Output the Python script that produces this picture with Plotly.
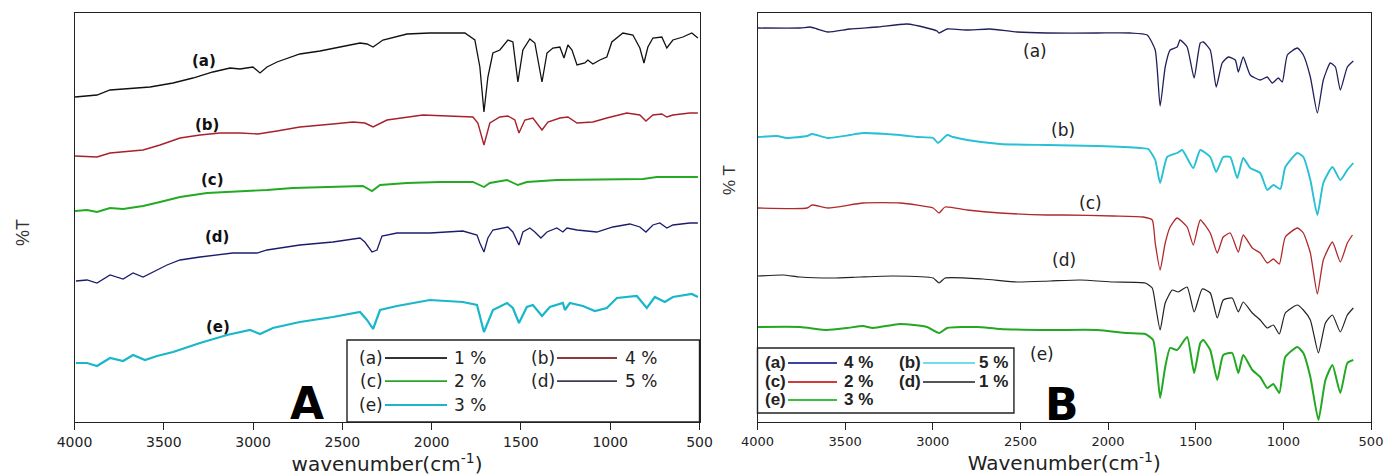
import plotly.graph_objects as go

# ---------------- Panel A data (wavenumber cm-1, %T offset a.u.) ----------------
A_a_wn = [3997, 3874, 3801, 3672, 3577, 3448, 3337, 3225, 3129, 3073, 3001, 2961, 2922, 2866, 2738, 2625,
          2457, 2401, 2362, 2328, 2273, 2138, 2010, 1814, 1758, 1730, 1707, 1685, 1657, 1618, 1573, 1545,
          1517, 1489, 1450, 1422, 1382, 1354, 1321, 1282, 1259, 1237, 1214, 1186, 1142, 1125, 1097, 1058,
          1019, 991, 929, 873, 834, 811, 789, 761, 711, 683, 649, 593, 543, 509]
A_a_T = [325, 327, 332, 334, 335, 339, 344, 350, 354, 353, 355, 349, 355, 360, 368, 371,
         377, 379, 378, 375, 382, 388, 389, 389, 382, 355, 310, 345, 369, 372, 382, 380,
         340, 372, 383, 379, 340, 369, 374, 375, 364, 377, 372, 357, 359, 362, 358, 362,
         365, 380, 389, 387, 374, 359, 375, 384, 385, 374, 382, 385, 389, 384]

A_b_wn = [3997, 3874, 3801, 3728, 3616, 3521, 3409, 3297, 3185, 3073, 2973, 2866, 2738, 2553, 2441,
          2374, 2328, 2250, 2049, 1769, 1741, 1707, 1674, 1618, 1573, 1534, 1511, 1478, 1433, 1382,
          1349, 1282, 1237, 1186, 1097, 1019, 907, 834, 800, 761, 711, 683, 649, 554, 509]
A_b_T = [266, 265, 269, 270, 272, 277, 284, 287, 289, 289, 288, 291, 295, 298, 300,
         299, 295, 302, 307, 305, 299, 277, 299, 305, 306, 302, 289, 302, 304, 292,
         300, 304, 305, 299, 300, 304, 309, 307, 301, 307, 308, 305, 307, 309, 309]

A_c_wn = [3997, 3930, 3874, 3801, 3728, 3616, 3521, 3409, 3258, 3113, 2922, 2777, 2553, 2385, 2334,
          2289, 2138, 1954, 1769, 1707, 1674, 1578, 1517, 1467, 1299, 1019, 817, 739, 509]
A_c_T = [211, 212, 210, 214, 213, 216, 220, 225, 229, 230, 232, 234, 235, 236, 231,
         237, 239, 240, 240, 235, 239, 242, 237, 240, 242, 243, 243, 245, 245]

A_d_wn = [3992, 3930, 3874, 3801, 3728, 3672, 3616, 3538, 3482, 3409, 3297, 3113, 2978, 2922, 2738,
          2553, 2401, 2374, 2334, 2306, 2278, 2194, 2010, 1825, 1746, 1730, 1707, 1685, 1657, 1573,
          1545, 1511, 1489, 1450, 1422, 1388, 1354, 1299, 1265, 1242, 1186, 1075, 985, 890, 834,
          800, 761, 722, 683, 649, 554, 509]
A_d_T = [141, 142, 139, 147, 143, 149, 145, 152, 157, 162, 165, 169, 169, 172, 177,
         180, 184, 180, 170, 172, 186, 189, 189, 191, 187, 179, 170, 184, 192, 195,
         190, 177, 190, 194, 190, 184, 190, 194, 190, 194, 192, 190, 195, 198, 195,
         190, 197, 199, 194, 197, 199, 199]

A_e_wn = [3992, 3930, 3874, 3801, 3728, 3672, 3605, 3538, 3448, 3297, 3146, 3017, 2961, 2889, 2738,
          2553, 2401, 2362, 2328, 2289, 2194, 2010, 1825, 1746, 1707, 1657, 1578, 1545, 1511, 1467,
          1433, 1382, 1338, 1265, 1254, 1226, 1153, 1086, 1019, 963, 851, 795, 750, 694, 649, 543, 509]
A_e_T = [59, 59, 56, 64, 61, 67, 62, 66, 70, 79, 87, 92, 88, 94, 100,
         105, 110, 102, 93, 112, 116, 122, 120, 117, 90, 112, 119, 114, 99, 115,
         117, 106, 115, 119, 112, 119, 116, 111, 114, 124, 126, 114, 125, 120, 125, 128, 125]

# ---------------- Panel B data ----------------
B_a_wn = [3997, 3757, 3700, 3660, 3598, 3472, 3318, 3147, 3033, 2976, 2964, 2918, 2804, 2673, 2519,
          2348, 2062, 1874, 1777, 1731, 1703, 1674, 1646, 1606, 1589, 1549, 1509, 1474, 1457, 1417,
          1383, 1349, 1314, 1274, 1257, 1229, 1189, 1132, 1092, 1063, 1029, 1006, 977, 920, 886,
          846, 806, 772, 732, 703, 675, 635, 601]
B_a_T = [394, 394, 395, 393, 390, 393, 395, 398, 394, 391, 389, 393, 392, 393, 390,
         389, 389, 389, 387, 372, 316, 355, 372, 375, 382, 375, 344, 379, 380, 372,
         335, 359, 365, 362, 350, 365, 347, 342, 345, 339, 344, 340, 367, 374, 367,
         345, 309, 342, 359, 355, 332, 355, 361]

B_b_wn = [3997, 3889, 3832, 3717, 3689, 3598, 3472, 3398, 3187, 3090, 2998, 2970, 2918, 2884, 2804,
          2616, 2348, 2062, 1817, 1771, 1731, 1703, 1663, 1606, 1577, 1514, 1474, 1417, 1383, 1343,
          1303, 1263, 1229, 1189, 1132, 1092, 1057, 1017, 989, 920, 886, 846, 806, 772, 720,
          675, 635, 601]
B_b_T = [285, 286, 284, 286, 288, 284, 287, 289, 287, 285, 284, 279, 287, 285, 282,
         278, 277, 276, 274, 273, 262, 239, 265, 269, 272, 254, 272, 265, 250, 265,
         265, 244, 264, 254, 249, 232, 237, 233, 255, 269, 265, 242, 207, 239, 255,
         242, 252, 259]

B_c_wn = [3997, 3717, 3689, 3598, 3398, 3187, 2998, 2964, 2930, 2804, 2616, 2348, 2256, 1971, 1800,
          1748, 1731, 1703, 1674, 1646, 1606, 1549, 1514, 1474, 1417, 1377, 1343, 1303, 1257, 1229,
          1177, 1132, 1092, 1057, 1023, 989, 920, 886, 846, 806, 772, 720, 675, 635, 606]
B_c_T = [214, 214, 217, 214, 219, 219, 214, 209, 215, 212, 209, 207, 207, 206, 205,
         202, 179, 152, 179, 195, 204, 195, 177, 202, 189, 169, 185, 189, 170, 187,
         174, 169, 159, 163, 158, 185, 194, 189, 169, 128, 162, 180, 160, 179, 187]

B_d_wn = [3997, 3854, 3757, 3569, 3415, 3227, 2998, 2964, 2930, 2713, 2519, 2331, 2159, 1971, 1788,
          1748, 1725, 1703, 1674, 1634, 1600, 1549, 1509, 1463, 1417, 1377, 1343, 1292, 1257, 1229,
          1177, 1132, 1092, 1057, 1023, 989, 920, 886, 846, 800, 760, 720, 675, 635, 601]
B_d_T = [146, 147, 145, 144, 145, 146, 144, 139, 144, 143, 140, 141, 142, 140, 139,
         134, 112, 92, 119, 132, 130, 135, 110, 133, 129, 104, 122, 124, 110, 120,
         109, 102, 94, 97, 88, 109, 117, 112, 102, 69, 99, 107, 90, 107, 114]

B_e_wn = [3997, 3757, 3603, 3489, 3398, 3341, 3187, 3033, 2964, 2918, 2747, 2616, 2331, 2062, 1891,
          1788, 1743, 1720, 1703, 1674, 1646, 1606, 1549, 1509, 1474, 1457, 1417, 1377, 1343, 1292,
          1257, 1229, 1177, 1132, 1092, 1057, 1023, 989, 920, 886, 846, 800, 760, 720, 675, 635, 601]
B_e_T = [95, 95, 92, 94, 96, 94, 98, 95, 89, 94, 95, 93, 92, 92, 89,
         88, 82, 52, 24, 55, 74, 72, 85, 49, 79, 82, 72, 42, 67, 69,
         49, 67, 52, 45, 34, 38, 29, 65, 75, 69, 45, 2, 42, 57, 29, 59, 62]

tick_vals = [4000, 3500, 3000, 2500, 2000, 1500, 1000, 500]
A_labels = ["(a)", "(b)", "(c)", "(d)", "(e)"]
A_pcts = ["1 %", "4 %", "2 %", "5 %", "3 %"]
B_labels = ["(a)", "(b)", "(c)", "(d)", "(e)"]
B_pcts = ["4 %", "5 %", "2 %", "1 %", "3 %"]

A_colors = ["#111111", "#a8202a", "#22aa22", "#1c1c6e", "#1ab6ca"]
A_legend_colors = ["#333333", "#8b3a3a", "#2aa52a", "#3c3c58", "#1ab6ca"]
A_widths = [1.3, 1.4, 1.9, 1.3, 2.2]
B_colors = ["#20205a", "#27c0d4", "#b02a2a", "#222222", "#22a822"]
B_legend_colors = ["#4040a0", "#70dcec", "#d03a3a", "#555555", "#3cc03c"]
B_widths = [1.3, 1.9, 1.3, 1.2, 2.0]

A_series = [(A_a_wn, A_a_T), (A_b_wn, A_b_T), (A_c_wn, A_c_T), (A_d_wn, A_d_T), (A_e_wn, A_e_T)]
B_series = [(B_a_wn, B_a_T), (B_b_wn, B_b_T), (B_c_wn, B_c_T), (B_d_wn, B_d_T), (B_e_wn, B_e_T)]

fig = go.Figure()
for i, (wn, T) in enumerate(A_series):
    fig.add_trace(go.Scatter(x=wn, y=T, mode="lines", name=f"A {A_labels[i]} {A_pcts[i]}",
                             line=dict(color=A_colors[i], width=A_widths[i]),
                             xaxis="x", yaxis="y", showlegend=False))
for i, (wn, T) in enumerate(B_series):
    fig.add_trace(go.Scatter(x=wn, y=T, mode="lines", name=f"B {B_labels[i]} {B_pcts[i]}",
                             line=dict(color=B_colors[i], width=B_widths[i], shape="spline", smoothing=0.5),
                             xaxis="x2", yaxis="y2", showlegend=False))

W, H = 1384, 476
axA = (74.5, 699.5)
axB = (757.5, 1371.0)
ybot, ytop = 422, 13

frame = dict(showgrid=False, zeroline=False, showline=True, linecolor="#222", linewidth=1.4, mirror=True)
xcommon = dict(range=[4000, 500], tickmode="array", tickvals=tick_vals, ticks="outside", ticklen=7,
               tickcolor="#222", tickwidth=1.2, automargin=False, **frame)
ycommon = dict(range=[0, 409], showticklabels=False, ticks="", automargin=False,
               domain=[(H - ybot) / H, (H - ytop) / H], **frame)

fig.update_layout(
    width=W, height=H, margin=dict(l=0, r=0, t=0, b=0),
    paper_bgcolor="white", plot_bgcolor="white", showlegend=False,
    xaxis=dict(domain=[axA[0] / W, axA[1] / W], anchor="y",
               tickfont=dict(family="DejaVu Sans", size=14, color="#222"),
               title=dict(text="wavenumber(cm<sup>-1</sup>)", standoff=4,
                          font=dict(family="DejaVu Sans", size=20, color="#222")),
               **xcommon),
    yaxis=dict(anchor="x", **ycommon),
    xaxis2=dict(domain=[axB[0] / W, axB[1] / W], anchor="y2",
                tickfont=dict(family="DejaVu Sans", size=13, color="#222"),
                title=dict(text="Wavenumber(cm<sup>-1</sup>)", standoff=4,
                           font=dict(family="DejaVu Sans", size=20, color="#222")),
                **xcommon),
    yaxis2=dict(anchor="x2", **ycommon),
)

ann = []
shapes = []
C = dict(xanchor="center", yanchor="middle", showarrow=False)

# y-axis titles
ann.append(dict(text="%T", x=23 / W, y=(H - 232) / H, xref="paper", yref="paper", textangle=-90,
                font=dict(family="Liberation Sans", size=18, color="#333"), **C))
ann.append(dict(text="% T", x=729 / W, y=(H - 180) / H, xref="paper", yref="paper", textangle=-90,
                font=dict(family="Liberation Sans", size=17, color="#333"), **C))

# curve labels (data coordinates)
A_label_pos = [(3275, 361), (3258, 297), (3225, 242), (3202, 185), (3197, 95)]
for lab, (xw, yv) in zip(A_labels, A_label_pos):
    ann.append(dict(text=f"<b>{lab}</b>", x=xw, y=yv, xref="x", yref="y",
                    font=dict(family="DejaVu Sans", size=15, color="#111"), **C))
B_label_pos = [(2416, 371), (2256, 292), (2102, 219), (2250, 162), (2376, 68)]
for lab, (xw, yv) in zip(B_labels, B_label_pos):
    ann.append(dict(text=lab, x=xw, y=yv, xref="x2", yref="y2",
                    font=dict(family="DejaVu Sans", size=17, color="#222"), **C))

# big panel letters
ann.append(dict(text="<b>A</b>", x=0.372, y=0.045, xref="x domain", yref="y domain",
                font=dict(family="DejaVu Sans", size=44, color="#000"), **C))
ann.append(dict(text="<b>B</b>", x=0.496, y=0.043, xref="x2 domain", yref="y2 domain",
                font=dict(family="DejaVu Sans", size=44, color="#000"), **C))

L = dict(yanchor="middle", showarrow=False)
# legend A
shapes.append(dict(type="rect", xref="x domain", yref="y domain", x0=0.436, x1=1.0, y0=0.0, y1=0.2005,
                   line=dict(color="#222", width=1.4), fillcolor="white", layer="above"))
A_rows = [0.1565, 0.1000, 0.0416]
A_cols = [(0.4968, 0.596, 0.604), (0.772, 0.868, 0.877)]
A_slots = [(0, 0), (0, 1), (1, 0), (1, 1), (2, 0)]
for i, (r, c) in enumerate(A_slots):
    lx, le, px = A_cols[c]
    yy = A_rows[r]
    ann.append(dict(text=A_labels[i], x=lx, y=yy, xref="x domain", yref="y domain", xanchor="right",
                    font=dict(family="DejaVu Sans", size=17, color="#222"), **L))
    shapes.append(dict(type="line", xref="x domain", yref="y domain", x0=lx, x1=le, y0=yy, y1=yy,
                       line=dict(color=A_legend_colors[i], width=1.8), layer="above"))
    ann.append(dict(text=A_pcts[i], x=px, y=yy, xref="x domain", yref="y domain", xanchor="left",
                    font=dict(family="DejaVu Sans", size=17, color="#222"), **L))

# legend B
shapes.append(dict(type="rect", xref="x2 domain", yref="y2 domain", x0=0.0, x1=0.418, y0=0.022, y1=0.181,
                   line=dict(color="#222", width=1.4), fillcolor="white", layer="above"))
B_rows = [0.1443, 0.0978, 0.0538]
B_cols = [(0.0497, 0.1296, 0.1377), (0.2698, 0.3545, 0.3578)]
for i, (r, c) in enumerate(A_slots):
    lx, le, px = B_cols[c]
    yy = B_rows[r]
    ann.append(dict(text=f"<b>{B_labels[i]}</b>", x=lx, y=yy, xref="x2 domain", yref="y2 domain",
                    xanchor="right", font=dict(family="Liberation Sans", size=17, color="#222"), **L))
    shapes.append(dict(type="line", xref="x2 domain", yref="y2 domain", x0=lx, x1=le, y0=yy, y1=yy,
                       line=dict(color=B_legend_colors[i], width=1.8), layer="above"))
    ann.append(dict(text=f"<b>{B_pcts[i]}</b>", x=px, y=yy, xref="x2 domain", yref="y2 domain",
                    xanchor="left", font=dict(family="Liberation Sans", size=17, color="#222"), **L))

fig.update_layout(annotations=ann, shapes=shapes)
fig.write_html("out.html")
